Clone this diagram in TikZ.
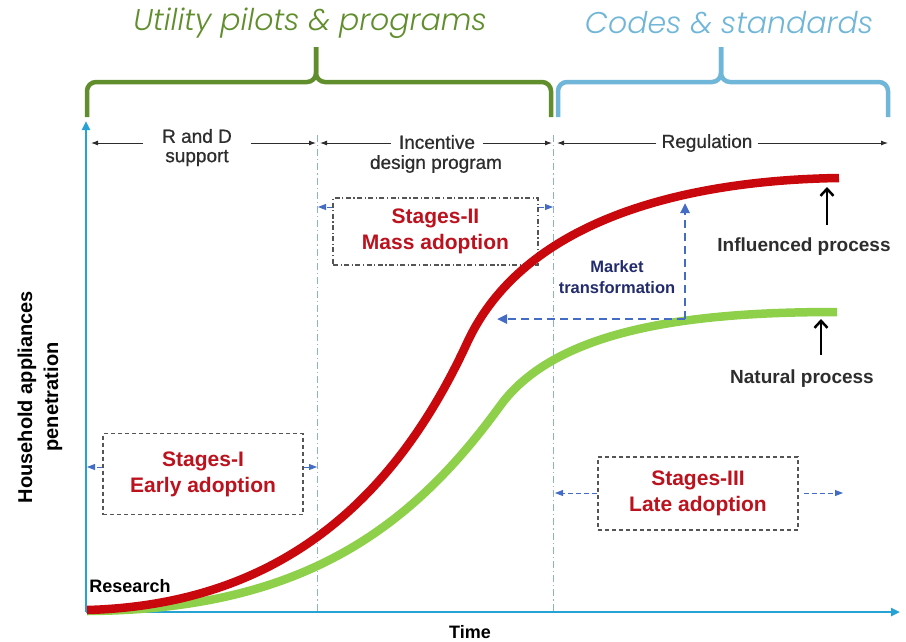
\documentclass[tikz,border=0pt]{standalone}
\usepackage{fontspec}
\setmainfont{Liberation Sans}
\newfontfamily\titlefont{Poppins}[UprightFont={* Light}, ItalicFont={* Light Italic}]
\newfontfamily\medfont{Liberation Sans}[FakeBold=0.7]
\usetikzlibrary{arrows.meta}

\definecolor{utilgreen}{RGB}{96,142,44}
\definecolor{codeblue}{RGB}{112,182,216}
\definecolor{axisblue}{RGB}{38,162,212}
\definecolor{curvered}{RGB}{200,8,12}
\definecolor{curvegreen}{RGB}{142,208,74}
\definecolor{stagered}{RGB}{188,18,30}
\definecolor{mktblue}{RGB}{68,108,196}
\definecolor{mktnavy}{RGB}{34,44,108}
\definecolor{guideblue}{RGB}{140,175,225}
\definecolor{boxgray}{RGB}{85,85,85}
\definecolor{labelgray}{RGB}{45,45,45}

\tikzset{
  titletext/.style={font=\titlefont\itshape\fontsize{30}{33}\selectfont, inner sep=0pt},
  bracepath/.style={line width=4.5pt, rounded corners=9pt},
  axisline/.style={draw=axisblue, line width=2.8pt, -{Triangle[length=9pt,width=8pt]}},
  guide/.style={draw=guideblue, line width=0.9pt, dash pattern=on 7pt off 3pt on 1.2pt off 3pt},
  toplabel/.style={text=labelgray, font=\medfont\fontsize{19}{22}\selectfont, inner ysep=0pt},
  toparrow/.style={draw=labelgray, line width=0.9pt, -{Latex[length=7pt,width=5pt]}},
  stagebox/.style={draw=boxgray, line width=1.4pt, dash pattern=on 4pt off 3pt,
    text=stagered, font=\bfseries\fontsize{21}{26}\selectfont, align=center},
  stagearrow/.style={draw=mktblue, line width=0.9pt, dash pattern=on 5pt off 3pt,
    -{Triangle[length=8pt,width=6pt]}},
  mktarrow/.style={draw=mktblue, line width=2.4pt, dash pattern=on 8pt off 5pt,
    -{Triangle[length=10pt,width=9pt]}},
  proclabel/.style={text=labelgray, font=\bfseries\fontsize{19}{22}\selectfont},
  procarrow/.style={draw=black, line width=2.5pt, -{Straight Barb[length=7pt,width=13pt]}},
  curve/.style={line width=8.5pt, line cap=butt, line join=round}
}

\begin{document}
\begin{tikzpicture}[x=1pt,y=-1pt]
\useasboundingbox (0,0) rectangle (906,641);

% headings and their braces
\node[titletext, text=utilgreen] (util) at (310,23) {Utility pilots \& programs};
\node[titletext, text=codeblue] (codes) at (729,23) {Codes \& standards};
\coordinate (gL) at (87,117);  \coordinate (gR) at (551,117);  \coordinate (gM) at (316,47);
\coordinate (bL) at (558,117); \coordinate (bR) at (888,117); \coordinate (bM) at (721,47);
\draw[bracepath, draw=utilgreen] (gL) -- (87,82) -- (316,82) -- (gM);
\draw[bracepath, draw=utilgreen] (gR) -- (551,82) -- (316,82) -- (gM);
\draw[bracepath, draw=codeblue] (bL) -- (558,82) -- (721,82) -- (bM);
\draw[bracepath, draw=codeblue] (bR) -- (888,82) -- (721,82) -- (bM);

% axes
\coordinate (origin) at (86,612);
\coordinate (ytop) at (86,121);
\coordinate (xend) at (900,612);
\draw[axisline] (origin) -- (ytop);
\draw[axisline] (origin) -- (xend);

% phase boundaries
\coordinate (g1top) at (317,135); \coordinate (g1bot) at (317,611);
\coordinate (g2top) at (553,135); \coordinate (g2bot) at (553,611);
\draw[guide] (g1top) -- (g1bot);
\draw[guide] (g2top) -- (g2bot);

% phase labels along the top
\node[toplabel, inner xsep=19pt] (rd) at (197,136) {R and D};
\node[toplabel] (rd2) at (197,158) {support};
\node[toplabel, inner xsep=8pt] (inc) at (437,142) {Incentive};
\node[toplabel] (inc2) at (436,164) {design program};
\node[toplabel, inner xsep=5pt] (reg) at (707,143) {Regulation};
\coordinate (rdL) at (91,143);  \coordinate (rdR) at (316,143);
\coordinate (incL) at (320,143); \coordinate (incR) at (552,143);
\coordinate (regL) at (557,143); \coordinate (regR) at (888,143);
\draw[toparrow] (rd.west |- rdL) -- (rdL);
\draw[toparrow] (rd.east |- rdR) -- (rdR);
\draw[toparrow] (inc.west |- incL) -- (incL);
\draw[toparrow] (inc.east |- incR) -- (incR);
\draw[toparrow] (reg.west |- regL) -- (regL);
\draw[toparrow] (reg.east |- regR) -- (regR);

% stage boxes
\node[stagebox, minimum width=200pt, minimum height=81pt] (s1) at (203,474) {Stages-I\\Early adoption};
\node[stagebox, minimum width=205pt, minimum height=67pt, dash pattern=on 5pt off 2.5pt on 1.2pt off 2.5pt] (s2) at (435.5,231.5) {Stages-II\\Mass adoption};
\node[stagebox, minimum width=200pt, minimum height=73pt] (s3) at (698,493.5) {Stages-III\\Late adoption};
\coordinate (s1L) at (87,467);  \coordinate (s1R) at (317,467);
\coordinate (s2L) at (318,207); \coordinate (s2R) at (553,207);
\coordinate (s3L) at (555,493); \coordinate (s3R) at (843,493);
\draw[stagearrow] (s1.west |- s1L) -- (s1L);
\draw[stagearrow] (s1.east |- s1R) -- (s1R);
\draw[stagearrow] (s2.west |- s2L) -- (s2L);
\draw[stagearrow] (s2.east |- s2R) -- (s2R);
\draw[stagearrow] (s3.west |- s3L) -- (s3L);
\draw[stagearrow] ([xshift=5pt]s3.east |- s3R) -- (s3R);

% adoption curves: natural (green) under influenced (red)
\draw[curve, draw=curvegreen] (87,611) .. controls (300,610) and (410,530) .. (500,406)
  .. controls (558,326) and (700,312) .. (837,312);
\draw[curve, draw=curvered] (87,610) .. controls (270,605) and (390,510) .. (467,343)
  .. controls (527,213) and (700,180) .. (839,178);

% market transformation
\coordinate (mk) at (685,319);
\coordinate (mkUp) at (685,203);
\coordinate (mkLeft) at (497,319);
\draw[mktarrow] (mk) -- (mkUp);
\draw[mktarrow] (mk) -- (mkLeft);
\node[text=mktnavy, font=\bfseries\fontsize{16.5}{21}\selectfont, align=center] (mkt) at (617,277) {Market\\transformation};

% process labels
\node[proclabel] (infl) at (804,247) {Influenced process};
\node[proclabel] (nat) at (802,379) {Natural process};
\coordinate (inflTip) at (827,187);
\coordinate (natTip) at (821,319);
\draw[procarrow] (inflTip |- infl.north) ++(0,-10) -- (inflTip);
\draw[procarrow] (natTip |- nat.north) ++(0,-12) -- (natTip);

% axis captions
\node[font=\bfseries\fontsize{18}{22}\selectfont] (research) at (130,586) {Research};
\node[font=\bfseries\fontsize{18}{22}\selectfont] (time) at (470,632) {Time};
\node[font=\bfseries\fontsize{20}{26}\selectfont, rotate=90, align=center] (ylab) at (40,397)
  {Household appliances\\penetration};
\end{tikzpicture}
\end{document}
